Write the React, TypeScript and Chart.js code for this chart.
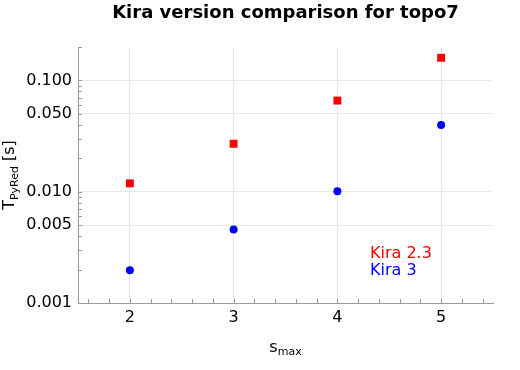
import React, { useEffect, useRef } from 'react';
import { Chart, registerables } from 'chart.js';

Chart.register(...registerables);

// ---- data ----
const smax = [2, 3, 4, 5];
const kira23 = [0.0119, 0.027, 0.066, 0.16];
const kira3 = [0.00197, 0.00457, 0.0101, 0.0398];
const seriesNames = ['Kira 2.3', 'Kira 3'];
const seriesColors = ['#ff0000', '#0000ff'];
const xTickLabels = [2, 3, 4, 5];
const yTickLabels = [0.001, 0.005, 0.01, 0.05, 0.1];
const xRange = [1.5, 5.5];
const yRange = [0.001, 0.2];
const titleText = 'Kira version comparison for topo7';

const FONT = "'DejaVu Sans', 'Noto Sans', sans-serif";
const AXIS_COLOR = '#9a9a9a';
const GRID_COLOR = '#e8e8e8';

const near = (a: number, b: number) => Math.abs(a - b) <= Math.abs(b) * 1e-6;

const decorations = {
  id: 'decorations',
  afterDraw(chart: any) {
    const { ctx, chartArea: a, scales } = chart;
    const xs = scales.x;
    const ys = scales.y;
    ctx.save();
    // inward minor/major tick marks
    ctx.strokeStyle = AXIS_COLOR;
    ctx.lineWidth = 1;
    ctx.beginPath();
    xs.ticks.forEach((t: any) => {
      if (t.value <= xRange[0] || t.value >= xRange[1]) return;
      const px = Math.round(xs.getPixelForValue(t.value)) + 0.5;
      ctx.moveTo(px, a.bottom);
      ctx.lineTo(px, a.bottom - 4);
    });
    ys.ticks.forEach((t: any) => {
      if (near(t.value, yRange[0])) return;
      const py = Math.round(ys.getPixelForValue(t.value)) + 0.5;
      ctx.moveTo(a.left, py);
      ctx.lineTo(a.left + 4, py);
    });
    ctx.stroke();

    const main = `16px ${FONT}`;
    const sub = `11px ${FONT}`;
    ctx.fillStyle = '#000';
    ctx.textBaseline = 'alphabetic';
    ctx.textAlign = 'left';

    // x axis title: s_max
    ctx.font = main;
    const w1 = ctx.measureText('s').width;
    ctx.font = sub;
    const w2 = ctx.measureText('max').width;
    const cx = (a.left + a.right) / 2;
    const sx = cx - (w1 + w2) / 2;
    ctx.font = main;
    ctx.fillText('s', sx, 352);
    ctx.font = sub;
    ctx.fillText('max', sx + w1, 355);

    // y axis title: T_PyRed [s]
    const parts: [string, string, number][] = [
      ['T', main, 0],
      ['PyRed', sub, 4],
      [' [s]', main, 0],
    ];
    let total = 0;
    const widths = parts.map(([s, f]) => {
      ctx.font = f;
      const w = ctx.measureText(s).width;
      total += w;
      return w;
    });
    ctx.save();
    ctx.translate(14, (a.top + a.bottom) / 2);
    ctx.rotate(-Math.PI / 2);
    let px = -total / 2;
    parts.forEach(([s, f, dy], i) => {
      ctx.font = f;
      ctx.fillText(s, px, dy);
      px += widths[i];
    });
    ctx.restore();

    // legend (text only, coloured)
    ctx.font = `16px ${FONT}`;
    chart.data.datasets.forEach((ds: any, i: number) => {
      ctx.fillStyle = ds.backgroundColor;
      ctx.fillText(ds.label, 370, 258 + i * 16.7);
    });
    ctx.restore();
  },
};

export default function App() {
  const ref = useRef<HTMLCanvasElement>(null);

  useEffect(() => {
    if (!ref.current) return;
    const chart = new Chart(ref.current, {
      type: 'scatter',
      data: {
        datasets: [
          {
            label: seriesNames[0],
            data: smax.map((x, i) => ({ x, y: kira23[i] })),
            backgroundColor: seriesColors[0],
            borderColor: seriesColors[0],
            pointStyle: 'rect',
            pointRadius: 5.6,
            borderWidth: 0,
          },
          {
            label: seriesNames[1],
            data: smax.map((x, i) => ({ x, y: kira3[i] })),
            backgroundColor: seriesColors[1],
            borderColor: seriesColors[1],
            pointStyle: 'circle',
            pointRadius: 4,
            borderWidth: 0,
          },
        ],
      },
      options: {
        animation: false,
        responsive: false,
        devicePixelRatio: 1,
        events: [],
        layout: { padding: { left: 0, right: 27, top: 0, bottom: 0 } },
        plugins: {
          legend: { display: false },
          tooltip: { enabled: false },
          title: {
            display: true,
            text: titleText,
            fullSize: false,
            color: '#000',
            font: { family: FONT, size: 18, weight: 'bold' },
            padding: { top: 3, bottom: 22.4 },
          },
        },
        scales: {
          x: {
            type: 'linear',
            min: xRange[0],
            max: xRange[1],
            afterBuildTicks: (axis: any) => {
              const ticks = [];
              for (let i = 16; i <= 54; i += 2) ticks.push({ value: i / 10 });
              axis.ticks = ticks;
            },
            afterFit: (axis: any) => {
              axis.height = 67;
            },
            ticks: {
              autoSkip: false,
              maxRotation: 0,
              padding: 5,
              color: '#000',
              font: { family: FONT, size: 16 },
              callback: (v: any) => {
                const n = Number(v);
                return xTickLabels.some((t) => near(n, t)) ? String(Math.round(n)) : '';
              },
            },
            grid: {
              drawTicks: false,
              lineWidth: 1,
              color: (c: any) => {
                const v = c.tick ? c.tick.value : NaN;
                return xTickLabels.some((t) => near(v, t)) ? GRID_COLOR : 'rgba(0,0,0,0)';
              },
            },
            border: { display: true, color: AXIS_COLOR, width: 1 },
          },
          y: {
            type: 'logarithmic',
            min: yRange[0],
            max: yRange[1],
            afterBuildTicks: (axis: any) => {
              const ticks = [];
              for (let e = -3; e <= -1; e++) {
                for (let m = 1; m <= 9; m++) {
                  const v = parseFloat((m * Math.pow(10, e)).toPrecision(3));
                  if (v <= yRange[1] * 1.000001) ticks.push({ value: v });
                }
              }
              axis.ticks = ticks;
            },
            afterFit: (axis: any) => {
              axis.width = 78;
            },
            ticks: {
              autoSkip: false,
              padding: 6,
              color: '#000',
              font: { family: FONT, size: 16 },
              callback: (v: any) => {
                const n = Number(v);
                return yTickLabels.some((t) => near(n, t)) ? n.toFixed(3) : '';
              },
            },
            grid: {
              drawTicks: false,
              lineWidth: 1,
              color: (c: any) => {
                const v = c.tick ? c.tick.value : NaN;
                if (near(v, yRange[0])) return 'rgba(0,0,0,0)';
                return yTickLabels.some((t) => near(v, t)) ? GRID_COLOR : 'rgba(0,0,0,0)';
              },
            },
            border: { display: true, color: AXIS_COLOR, width: 1 },
          },
        },
      },
      plugins: [decorations],
    } as any);
    return () => chart.destroy();
  }, []);

  return (
    <div style={{ position: 'fixed', left: 0, top: 0, width: 520, height: 370, background: '#fff' }}>
      <canvas ref={ref} width={520} height={370} style={{ display: 'block', width: 520, height: 370 }} />
    </div>
  );
}
